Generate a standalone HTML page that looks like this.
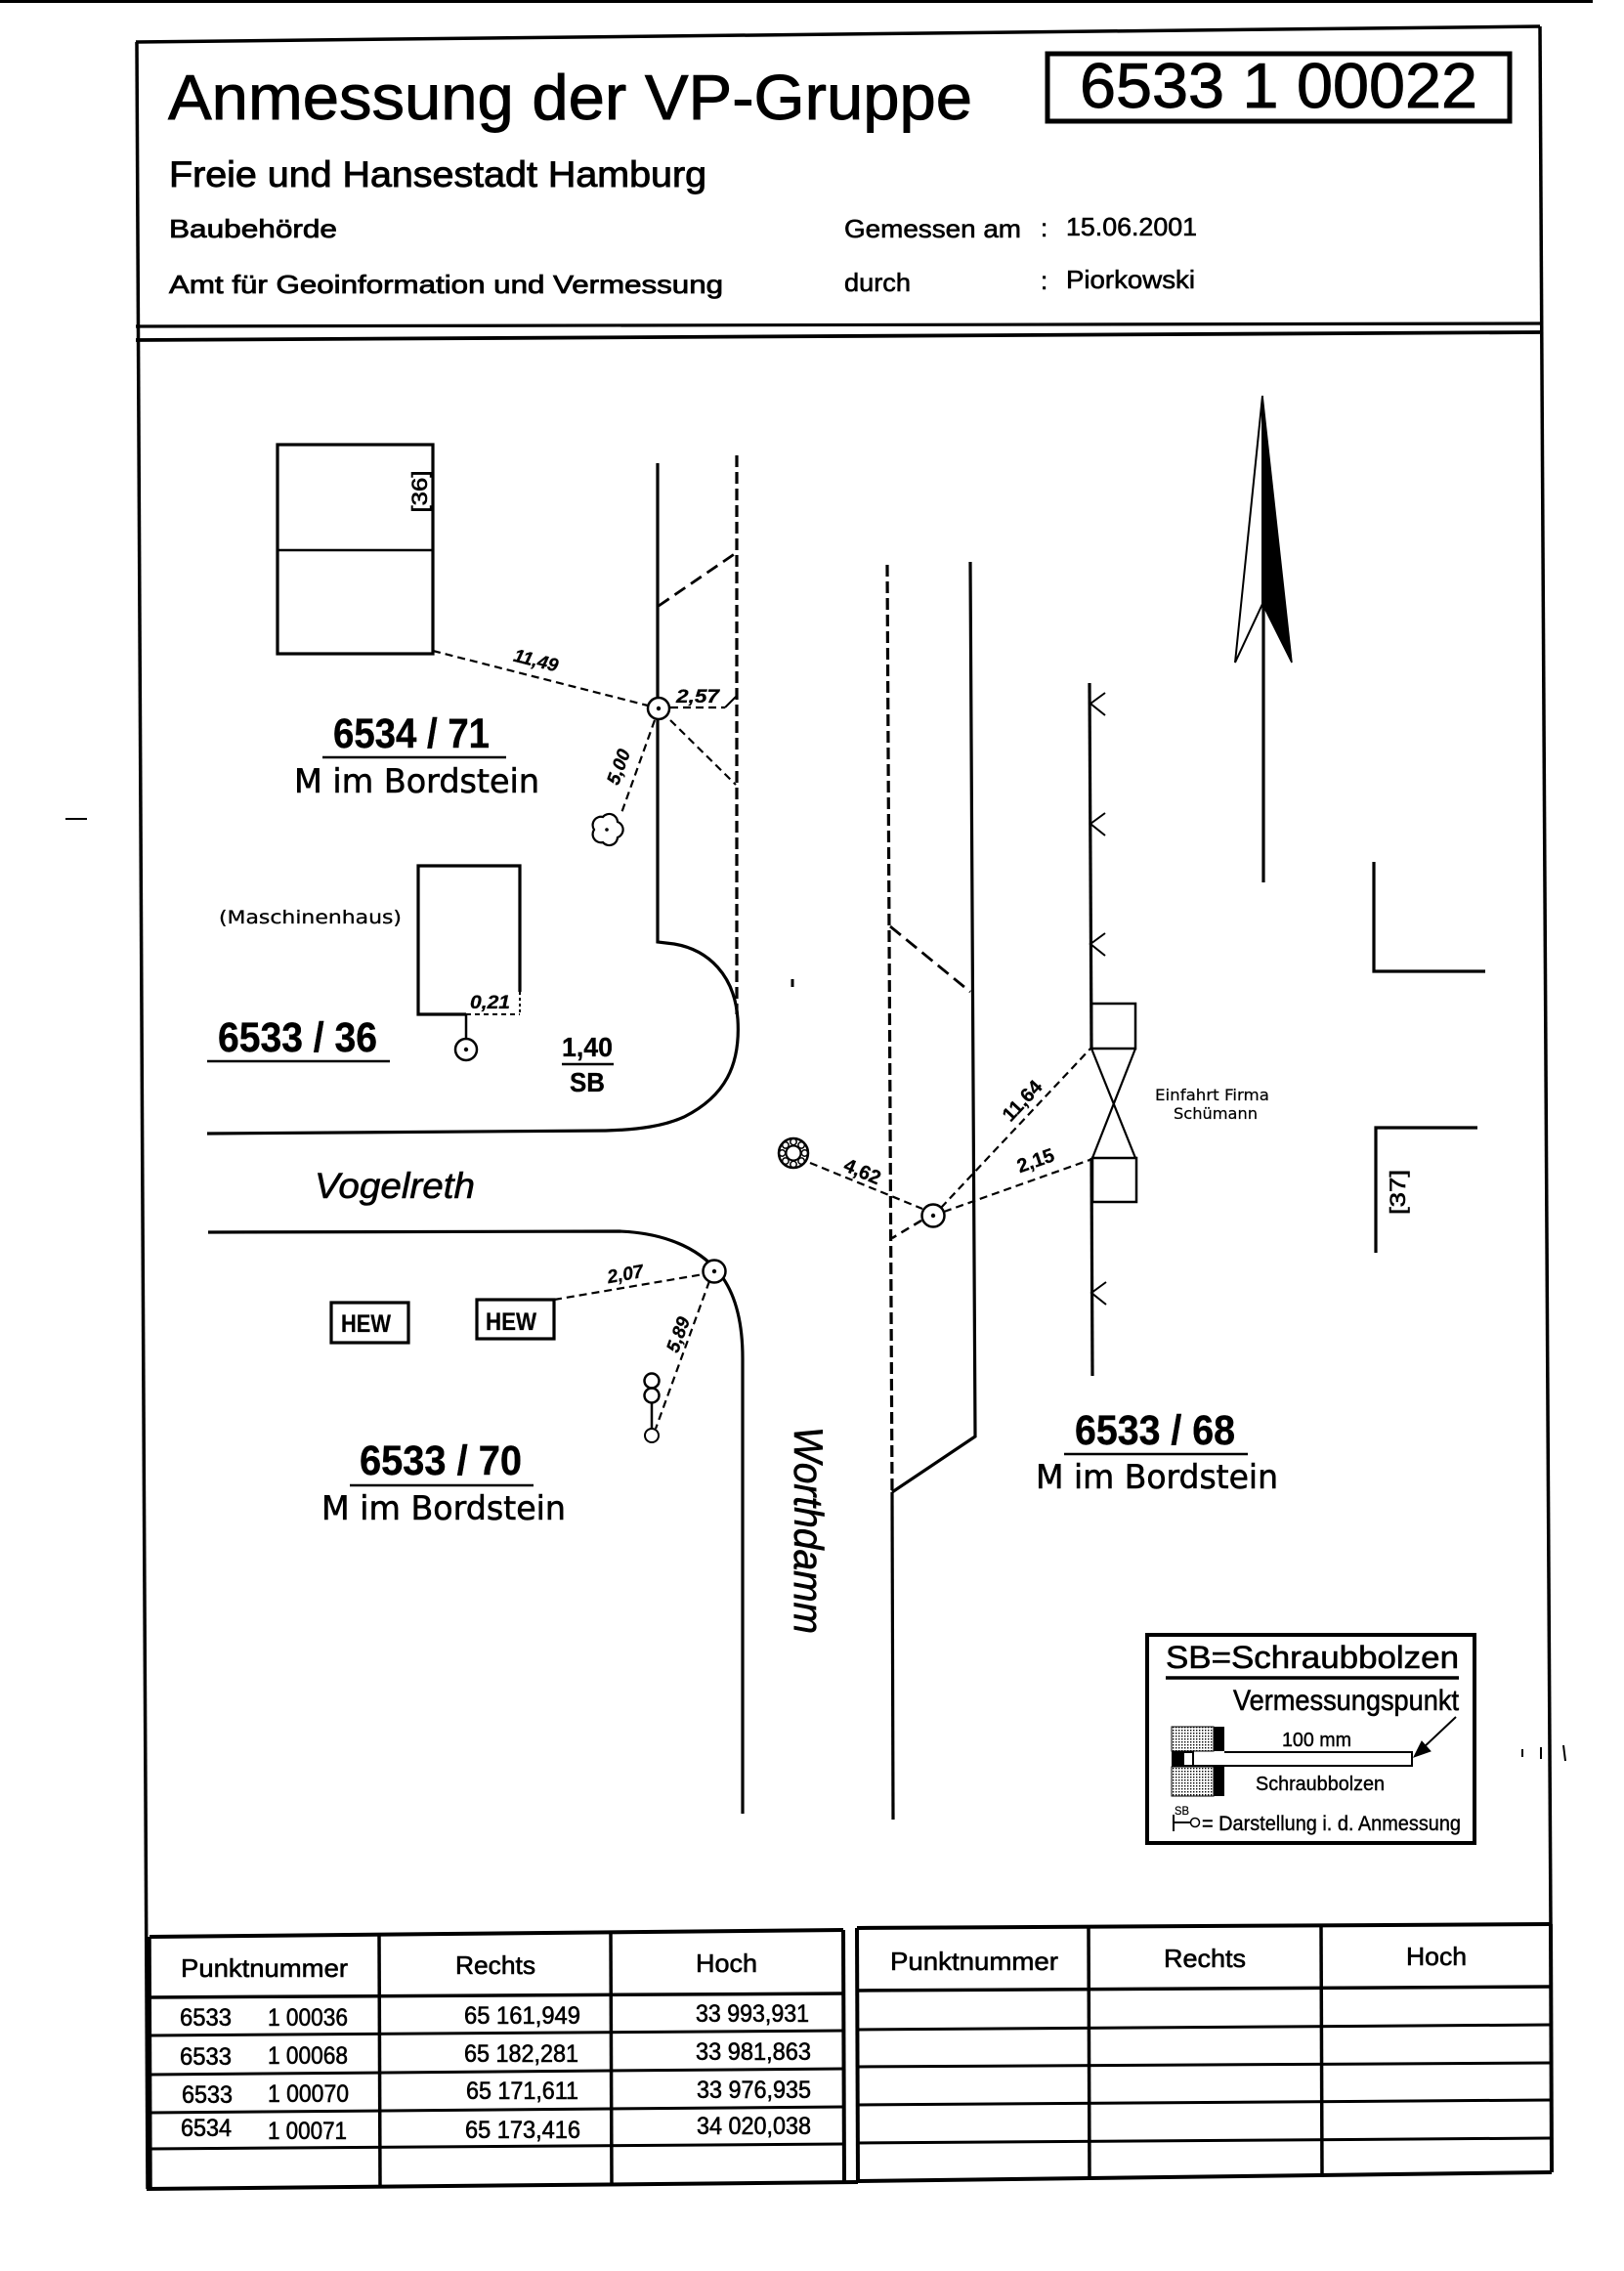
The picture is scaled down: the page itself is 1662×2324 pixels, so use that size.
<!DOCTYPE html>
<html><head><meta charset="utf-8"><title>Anmessung der VP-Gruppe</title>
<style>html,body{margin:0;padding:0;background:#fff}svg{display:block}</style></head>
<body>
<svg xmlns="http://www.w3.org/2000/svg" width="1662" height="2324" viewBox="0 0 1662 2324">
<defs>
<pattern id="st" width="3" height="3" patternUnits="userSpaceOnUse"><rect width="3" height="3" fill="#fff"/><rect width="1.4" height="1.4" fill="#000"/></pattern>
</defs>
<rect width="1662" height="2324" fill="#fff"/>
<g stroke="#000" fill="none" stroke-width="3.2">
<line x1="0" y1="1.5" x2="1630" y2="1.5" stroke-width="3"/>
<line x1="139" y1="43" x2="1576" y2="27" stroke-width="3.5"/>
<line x1="140" y1="43" x2="151" y2="2240" stroke-width="3.5"/>
<line x1="1576" y1="27" x2="1587" y2="1970" stroke-width="3.5"/>
<line x1="139" y1="334" x2="1576" y2="331"/>
<line x1="139" y1="348" x2="1576" y2="340" stroke-width="3.8"/>
<rect x="1072" y="55" width="473" height="69" stroke-width="5"/>

<rect x="284" y="455" width="159" height="214"/>
<line x1="284" y1="563" x2="443" y2="563" stroke-width="2.5"/>
<path d="M673 474 L673 964 L690 966 C725 972 752 998 755 1043 C758 1090 742 1122 700 1143 C680 1152 655 1156 620 1157 L212 1160"/>
<line x1="754" y1="466" x2="754" y2="1038" stroke-dasharray="12 5"/>
<line x1="674" y1="620" x2="753" y2="566" stroke-dasharray="13 7" stroke-width="2.8"/>
<g stroke-width="2.2" stroke-dasharray="8 5">
<line x1="443" y1="666" x2="663" y2="722"/>
<line x1="686" y1="724" x2="742" y2="724"/>
<line x1="686" y1="737" x2="753" y2="803"/>
<line x1="670" y1="737" x2="636" y2="832"/>
</g>
<line x1="742" y1="724" x2="753" y2="713" stroke-width="2"/>
<path d="M632 857 A8.5 8.5 0 0 1 617 862 A8.5 8.5 0 0 1 608 849 A8.5 8.5 0 0 1 617 836 A8.5 8.5 0 0 1 632 841 A8.5 8.5 0 0 1 632 857 Z" stroke-width="2.2"/>
<path d="M477 1038 L428 1038 L428 886 L532 886 L532 1015"/>
<line x1="477" y1="1038" x2="532" y2="1038" stroke-width="2" stroke-dasharray="5 4"/>
<line x1="532" y1="1015" x2="532" y2="1038" stroke-width="2" stroke-dasharray="3 3"/>
<line x1="477" y1="1038" x2="477" y2="1063" stroke-width="2.5"/>
<line x1="330" y1="775" x2="518" y2="775" stroke-width="2.5"/>
<line x1="212" y1="1086" x2="399" y2="1086" stroke-width="2.5"/>
<line x1="575" y1="1089" x2="628" y2="1089" stroke-width="2.5"/>
<line x1="358" y1="1520" x2="546" y2="1520" stroke-width="2.5"/>
<line x1="1089" y1="1488" x2="1277" y2="1488" stroke-width="2.5"/>

<path d="M213 1261 L634 1260 C685 1262 720 1280 740 1308 C755 1330 760 1360 760 1390 L760 1856"/>
<rect x="339" y="1333" width="79" height="41"/>
<rect x="488" y="1330" width="79" height="40"/>
<g stroke-width="2.2" stroke-dasharray="8 5">
<line x1="567" y1="1330" x2="720" y2="1304"/>
<line x1="726" y1="1311" x2="671" y2="1462"/>
</g>
<circle cx="667" cy="1413" r="7.5" stroke-width="2.5"/>
<circle cx="667" cy="1428" r="7.5" stroke-width="2.5"/>
<line x1="667" y1="1436" x2="667" y2="1462" stroke-width="2.5"/>
<circle cx="667" cy="1469" r="7" stroke-width="2"/>

<line x1="908" y1="578" x2="913" y2="1527" stroke-dasharray="12 5"/>
<line x1="913" y1="1527" x2="914" y2="1862"/>
<polyline points="993,575 998,1470 913,1527"/>
<line x1="911" y1="948" x2="993" y2="1015" stroke-dasharray="14 7" stroke-width="2.8"/>
<line x1="943" y1="1249" x2="913" y2="1267" stroke-dasharray="9 6" stroke-width="2.5"/>
<line x1="1115" y1="699" x2="1117" y2="1073"/>
<line x1="1117" y1="1185" x2="1118" y2="1408"/>
<rect x="1117" y="1027" width="45" height="46" stroke-width="2.5"/>
<rect x="1118" y="1185" width="45" height="45" stroke-width="2.5"/>
<line x1="1117" y1="1073" x2="1162" y2="1185" stroke-width="2.2"/>
<line x1="1162" y1="1073" x2="1118" y2="1185" stroke-width="2.2"/>
<g stroke-width="2">
<polyline points="1131,709 1116,720 1131,732"/>
<polyline points="1131,832 1116,843 1131,855"/>
<polyline points="1131,955 1116,966 1131,978"/>
<polyline points="1132,1312 1117,1323 1132,1335"/>
</g>
<g stroke-width="2.2" stroke-dasharray="8 5">
<line x1="829" y1="1190" x2="944" y2="1237"/>
<line x1="963" y1="1236" x2="1116" y2="1073"/>
<line x1="966" y1="1240" x2="1118" y2="1186"/>
</g>
<circle cx="812" cy="1180" r="15" stroke-width="2.5"/>
<circle cx="812" cy="1180" r="7.5" stroke-width="2"/>
<g stroke-width="1.5">
<circle cx="823.5" cy="1180" r="3.2"/><circle cx="820.1" cy="1188.1" r="3.2"/><circle cx="812" cy="1191.5" r="3.2"/><circle cx="803.9" cy="1188.1" r="3.2"/>
<circle cx="800.5" cy="1180" r="3.2"/><circle cx="803.9" cy="1171.9" r="3.2"/><circle cx="812" cy="1168.5" r="3.2"/><circle cx="820.1" cy="1171.9" r="3.2"/>
</g>
<polyline points="1406,882 1406,994 1520,994"/>
<polyline points="1512,1154 1408,1154 1408,1282"/>
<polygon points="1292,405 1264,678 1292,618" stroke-width="2" fill="#fff"/>
<polygon points="1292,405 1322,678 1292,618" stroke-width="1.5" fill="#000"/>
<line x1="1293" y1="618" x2="1293" y2="903"/>

<g stroke-width="2.5" fill="#fff">
<circle cx="674" cy="725" r="11"/>
<circle cx="477" cy="1074" r="11"/>
<circle cx="955" cy="1244" r="11.5"/>
<circle cx="731" cy="1301" r="11.5"/>
</g>
<g fill="#000" stroke="none">
<circle cx="674" cy="725" r="2.2"/><circle cx="477" cy="1074" r="2.2"/><circle cx="955" cy="1244" r="2.2"/><circle cx="731" cy="1301" r="2.2"/><circle cx="621" cy="849" r="1.8"/>
</g>

<rect x="1174" y="1673" width="335" height="213" stroke-width="4"/>
<line x1="1193" y1="1717" x2="1493" y2="1717" stroke-width="3.5"/>
<rect x="1199" y="1767" width="43" height="25" fill="url(#st)" stroke-width="1"/>
<rect x="1199" y="1808" width="43" height="30" fill="url(#st)" stroke-width="1"/>
<rect x="1242" y="1767" width="11" height="25" fill="#000" stroke="none"/>
<rect x="1242" y="1808" width="11" height="30" fill="#000" stroke="none"/>
<rect x="1199" y="1792" width="11" height="16" fill="#000" stroke="none"/>
<rect x="1211" y="1793" width="10" height="14" stroke-width="2"/>
<polyline points="1253,1793 1445,1793 1445,1807 1221,1807" stroke-width="2"/>
<line x1="1490" y1="1757" x2="1455" y2="1790" stroke-width="2"/>
<polygon points="1447,1798 1455,1782 1464,1792" fill="#000" stroke-width="1"/>
<line x1="1201" y1="1857" x2="1201" y2="1874" stroke-width="2"/>
<line x1="1201" y1="1865" x2="1218" y2="1865" stroke-width="2"/>
<circle cx="1223" cy="1865" r="4.5" stroke-width="1.5"/>

<g stroke-width="3.5">
<line x1="153" y1="1982" x2="863" y2="1975" stroke-width="4"/>
<line x1="153" y1="2044" x2="863" y2="2040"/>
<line x1="153" y1="2083" x2="863" y2="2078" stroke-width="3"/>
<line x1="153" y1="2123" x2="863" y2="2117" stroke-width="3"/>
<line x1="153" y1="2162" x2="863" y2="2156" stroke-width="3"/>
<line x1="153" y1="2199" x2="863" y2="2194" stroke-width="3"/>
<line x1="150" y1="2240" x2="878" y2="2233" stroke-width="4"/>
<line x1="153" y1="1982" x2="154" y2="2240"/>
<line x1="388" y1="1980" x2="389" y2="2238"/>
<line x1="625" y1="1978" x2="626" y2="2236"/>
<line x1="863" y1="1975" x2="864" y2="2234" stroke-width="4"/>
<line x1="877" y1="1973" x2="1587" y2="1969" stroke-width="4"/>
<line x1="877" y1="2037" x2="1587" y2="2033"/>
<line x1="877" y1="2077" x2="1587" y2="2072" stroke-width="3"/>
<line x1="877" y1="2115" x2="1587" y2="2111" stroke-width="3"/>
<line x1="877" y1="2154" x2="1587" y2="2149" stroke-width="3"/>
<line x1="877" y1="2193" x2="1587" y2="2188" stroke-width="3"/>
<line x1="877" y1="2232" x2="1588" y2="2223" stroke-width="4"/>
<line x1="877" y1="1973" x2="878" y2="2232" stroke-width="4"/>
<line x1="1114" y1="1972" x2="1115" y2="2230"/>
<line x1="1352" y1="1971" x2="1353" y2="2228"/>
<line x1="1587" y1="1969" x2="1588" y2="2223" stroke-width="4"/>
</g>
<line x1="67" y1="838" x2="89" y2="838" stroke-width="2"/>
<line x1="811" y1="1002" x2="811" y2="1010" stroke-width="3"/>
<line x1="1558" y1="1790" x2="1558" y2="1798" stroke-width="2"/>
<line x1="1577" y1="1788" x2="1577" y2="1800" stroke-width="2"/>
<line x1="1600" y1="1786" x2="1602" y2="1802" stroke-width="2"/>
</g>

<g fill="#000" stroke="#000" stroke-width="0.6" font-family="'Liberation Sans', Arial, sans-serif">
<text x="172" y="122" font-size="65" stroke-width="0.9" textLength="823" lengthAdjust="spacingAndGlyphs">Anmessung der VP-Gruppe</text>
<text x="1105" y="110" font-size="65" stroke-width="0.9" textLength="407" lengthAdjust="spacingAndGlyphs">6533 1 00022</text>
<text x="173" y="191" font-size="37" stroke-width="0.9" textLength="550" lengthAdjust="spacingAndGlyphs">Freie und Hansestadt Hamburg</text>
<text x="173" y="243" font-size="26" stroke-width="0.8" textLength="172" lengthAdjust="spacingAndGlyphs">Baubehörde</text>
<text x="173" y="300" font-size="26" stroke-width="0.8" textLength="567" lengthAdjust="spacingAndGlyphs">Amt für Geoinformation und Vermessung</text>
<text x="864" y="243" font-size="26" textLength="181" lengthAdjust="spacingAndGlyphs">Gemessen am</text>
<text x="1065" y="242" font-size="26">:</text>
<text x="1091" y="241" font-size="26" textLength="134" lengthAdjust="spacingAndGlyphs">15.06.2001</text>
<text x="864" y="298" font-size="26" textLength="68" lengthAdjust="spacingAndGlyphs">durch</text>
<text x="1065" y="296" font-size="26">:</text>
<text x="1091" y="295" font-size="26" textLength="132" lengthAdjust="spacingAndGlyphs">Piorkowski</text>

<text transform="translate(437,503) rotate(-90)" text-anchor="middle" font-size="22" textLength="43" lengthAdjust="spacingAndGlyphs">[36]</text>
<text transform="translate(1438,1220) rotate(-90)" text-anchor="middle" font-size="22" textLength="46" lengthAdjust="spacingAndGlyphs">[37]</text>

<g font-style="italic" font-weight="bold" font-size="19" stroke-width="0.3">
<text transform="translate(547,682) rotate(14)" text-anchor="middle">11,49</text>
<text x="692" y="719" textLength="44" lengthAdjust="spacingAndGlyphs">2,57</text>
<text transform="translate(639,787) rotate(-70)" text-anchor="middle">5,00</text>
<text x="481" y="1032" textLength="41" lengthAdjust="spacingAndGlyphs">0,21</text>
<text transform="translate(641,1310) rotate(-10)" text-anchor="middle">2,07</text>
<text transform="translate(700,1368) rotate(-70)" text-anchor="middle">5,89</text>
</g>
<g font-size="20" font-weight="bold" stroke-width="0.3">
<text transform="translate(880,1205) rotate(23)" text-anchor="middle">4,62</text>
<text transform="translate(1051,1131) rotate(-47)" text-anchor="middle">11,64</text>
<text transform="translate(1062,1194) rotate(-19)" text-anchor="middle">2,15</text>
</g>

<g font-weight="bold" font-size="43" stroke-width="0.4">
<text x="341" y="765" textLength="160" lengthAdjust="spacingAndGlyphs">6534 / 71</text>
<text x="223" y="1076" textLength="163" lengthAdjust="spacingAndGlyphs">6533 / 36</text>
<text x="368" y="1509" textLength="166" lengthAdjust="spacingAndGlyphs">6533 / 70</text>
<text x="1100" y="1478" textLength="164" lengthAdjust="spacingAndGlyphs">6533 / 68</text>
</g>
<g font-weight="bold" font-size="28" stroke-width="0.3">
<text x="575" y="1081" textLength="52" lengthAdjust="spacingAndGlyphs">1,40</text>
<text x="583" y="1117" textLength="36" lengthAdjust="spacingAndGlyphs">SB</text>
</g>

<g font-family="'DejaVu Sans', sans-serif">
<text x="301" y="811" font-size="34" textLength="251" lengthAdjust="spacingAndGlyphs">M im Bordstein</text>
<text x="329" y="1555" font-size="34" textLength="250" lengthAdjust="spacingAndGlyphs">M im Bordstein</text>
<text x="1060" y="1523" font-size="34" textLength="248" lengthAdjust="spacingAndGlyphs">M im Bordstein</text>
<text x="224" y="945" font-size="19" stroke-width="0.3" textLength="187" lengthAdjust="spacingAndGlyphs">(Maschinenhaus)</text>
<text x="1182" y="1126" font-size="16" stroke-width="0.2" textLength="117" lengthAdjust="spacingAndGlyphs">Einfahrt Firma</text>
<text x="1201" y="1145" font-size="16" stroke-width="0.2" textLength="86" lengthAdjust="spacingAndGlyphs">Schümann</text>
</g>

<text x="322" y="1226" font-size="37" font-style="italic" textLength="164" lengthAdjust="spacingAndGlyphs">Vogelreth</text>
<text transform="translate(813,1566) rotate(90)" text-anchor="middle" font-size="42" font-style="italic" textLength="212" lengthAdjust="spacingAndGlyphs">Worthdamm</text>

<text x="349" y="1363" font-size="25" font-weight="bold" stroke-width="0.2" textLength="51" lengthAdjust="spacingAndGlyphs">HEW</text>
<text x="497" y="1361" font-size="25" font-weight="bold" stroke-width="0.2" textLength="52" lengthAdjust="spacingAndGlyphs">HEW</text>

<text x="1193" y="1707" font-size="32" textLength="300" lengthAdjust="spacingAndGlyphs">SB=Schraubbolzen</text>
<text x="1262" y="1750" font-size="30" textLength="231" lengthAdjust="spacingAndGlyphs">Vermessungspunkt</text>
<text x="1312" y="1787" font-size="20" stroke-width="0.4" textLength="71" lengthAdjust="spacingAndGlyphs">100 mm</text>
<text x="1285" y="1832" font-size="20" stroke-width="0.4" textLength="132" lengthAdjust="spacingAndGlyphs">Schraubbolzen</text>
<text x="1202" y="1857" font-size="12" stroke-width="0.2" textLength="15" lengthAdjust="spacingAndGlyphs">SB</text>
<text x="1230" y="1873" font-size="21" stroke-width="0.4" textLength="265" lengthAdjust="spacingAndGlyphs">= Darstellung i. d. Anmessung</text>

<g font-size="26">
<text x="185" y="2023" textLength="171" lengthAdjust="spacingAndGlyphs">Punktnummer</text>
<text x="466" y="2020" textLength="82" lengthAdjust="spacingAndGlyphs">Rechts</text>
<text x="712" y="2018" textLength="63" lengthAdjust="spacingAndGlyphs">Hoch</text>
<text x="911" y="2016" textLength="172" lengthAdjust="spacingAndGlyphs">Punktnummer</text>
<text x="1191" y="2013" textLength="84" lengthAdjust="spacingAndGlyphs">Rechts</text>
<text x="1439" y="2011" textLength="62" lengthAdjust="spacingAndGlyphs">Hoch</text>
</g>
<g font-size="25">
<text x="184" y="2073" textLength="53" lengthAdjust="spacingAndGlyphs">6533</text>
<text x="274" y="2073" textLength="82" lengthAdjust="spacingAndGlyphs">1 00036</text>
<text x="475" y="2071" textLength="119" lengthAdjust="spacingAndGlyphs">65 161,949</text>
<text x="712" y="2069" textLength="116" lengthAdjust="spacingAndGlyphs">33 993,931</text>
<text x="184" y="2113" textLength="53" lengthAdjust="spacingAndGlyphs">6533</text>
<text x="274" y="2112" textLength="82" lengthAdjust="spacingAndGlyphs">1 00068</text>
<text x="475" y="2110" textLength="117" lengthAdjust="spacingAndGlyphs">65 182,281</text>
<text x="712" y="2108" textLength="118" lengthAdjust="spacingAndGlyphs">33 981,863</text>
<text x="186" y="2152" textLength="52" lengthAdjust="spacingAndGlyphs">6533</text>
<text x="274" y="2151" textLength="83" lengthAdjust="spacingAndGlyphs">1 00070</text>
<text x="477" y="2148" textLength="115" lengthAdjust="spacingAndGlyphs">65 171,611</text>
<text x="713" y="2147" textLength="117" lengthAdjust="spacingAndGlyphs">33 976,935</text>
<text x="185" y="2186" textLength="52" lengthAdjust="spacingAndGlyphs">6534</text>
<text x="274" y="2189" textLength="81" lengthAdjust="spacingAndGlyphs">1 00071</text>
<text x="476" y="2188" textLength="118" lengthAdjust="spacingAndGlyphs">65 173,416</text>
<text x="713" y="2184" textLength="117" lengthAdjust="spacingAndGlyphs">34 020,038</text>
</g>
</g>
</svg>
</body></html>
